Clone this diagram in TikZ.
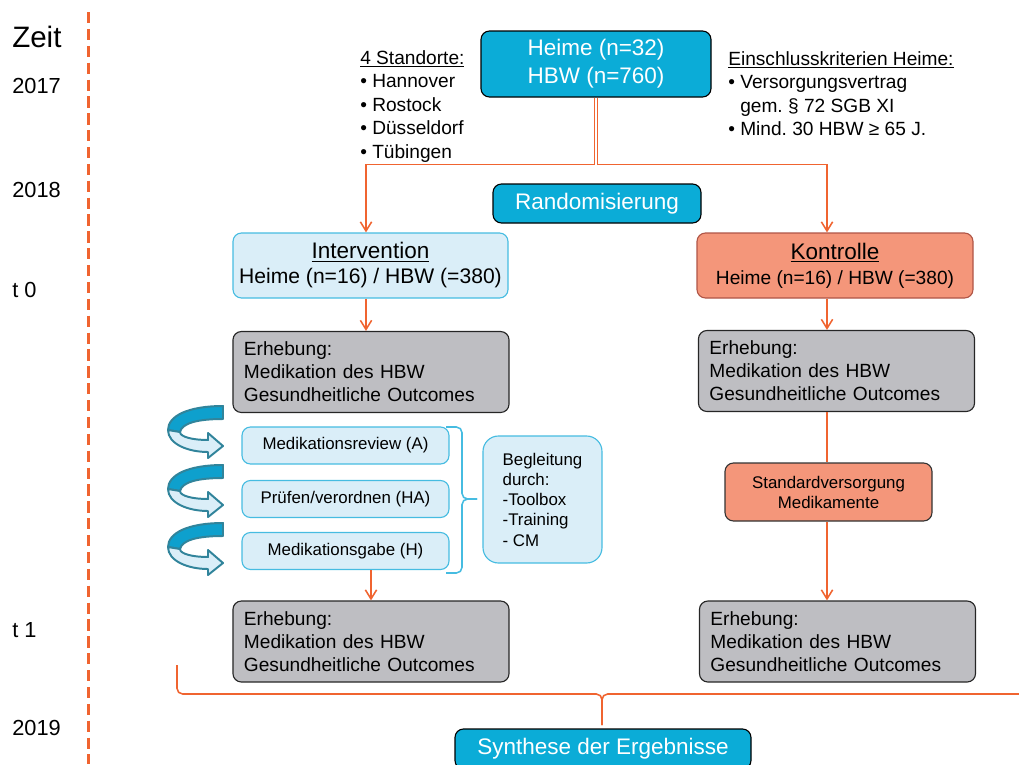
\documentclass[tikz,border=0pt]{standalone}
\usepackage{fontspec}
\setmainfont{Liberation Sans}
\usetikzlibrary{arrows.meta,positioning}
\frenchspacing

\definecolor{heimblue}{RGB}{11,172,215}
\definecolor{lightblue}{RGB}{218,238,248}
\definecolor{lineblue}{RGB}{70,188,225}
\definecolor{salmon}{RGB}{244,150,122}
\definecolor{salmonline}{RGB}{175,85,70}
\definecolor{boxgray}{RGB}{190,190,194}
\definecolor{conorange}{RGB}{240,100,48}
\definecolor{spiraldark}{RGB}{14,160,205}
\definecolor{spiralline}{RGB}{49,132,155}

\newcommand{\pxl}{0.025cm}

\tikzset{
  darkbox/.style={draw=black, line width=0.8pt, rounded corners=6pt, fill=heimblue, text=white, align=center, font=\fontsize{16}{19.9}\selectfont, inner sep=0pt},
  lightbox/.style={draw=lineblue, line width=0.8pt, rounded corners=6pt, fill=lightblue, align=center, inner sep=0pt},
  redbox/.style={draw=salmonline, line width=0.8pt, rounded corners=6pt, fill=salmon, align=center, inner sep=0pt},
  graybox/.style={draw=black!85, line width=0.8pt, rounded corners=6pt, fill=boxgray, align=left, font=\fontsize{13.6}{16.4}\selectfont, text width=6.35cm, inner xsep=0.275cm, inner ysep=0pt, minimum height=81*\pxl},
  conn/.style={draw=conorange, line width=1.1pt},
  arr/.style={conn, -{Straight Barb[length=6.5pt,width=8pt]}},
  txt/.style={font=\fontsize{13.6}{16.7}\selectfont, align=left, inner sep=0pt},
  timetxt/.style={font=\fontsize{15.5}{18}\selectfont, anchor=west, inner sep=0pt},
  bracket/.style={line width=1.1pt, rounded corners=4pt},
  spiral/.style={draw=spiralline, line width=1.4pt, line join=round},
}

\begin{document}
\begin{tikzpicture}[x=\pxl, y=-\pxl]
  \useasboundingbox (0,0) rectangle (1019,764);

  % time axis
  \coordinate (axtop) at (88.5,12);
  \coordinate (axbot) at (88.5,764);
  \draw[conorange, line width=2.4pt, dash pattern=on 8pt off 4pt] (axtop) -- (axbot);
  \node[timetxt, font=\fontsize{21}{24}\selectfont] (zeit) at (12,37) {Zeit};
  \node[timetxt] (y2017) at (12,86) {2017};
  \node[timetxt] (y2018) at (12,190) {2018};
  \node[timetxt] (tnull) at (12,290) {t 0};
  \node[timetxt] (teins) at (12,630) {t 1};
  \node[timetxt] (y2019) at (12,728) {2019};

  % top
  \node[darkbox, minimum width=230*\pxl, minimum height=66*\pxl] (heime) at (596,64) {Heime (n=32)\\HBW (n=760)};
  \node[txt, anchor=north west] (orte) at (360,50) {\underline{4 Standorte:}\\• Hannover\\• Rostock\\• Düsseldorf\\• Tübingen};
  \node[txt, anchor=north west] (krit) at (728,51) {\underline{Einschlusskriterien Heime:}\\• Versorgungsvertrag\\\hphantom{•} gem. § 72 SGB XI\\• Mind. 30 HBW ≥ 65 J.};
  \node[darkbox, minimum width=208*\pxl, minimum height=39*\pxl] (rand) at (597,203.5) {Randomisierung};

  % arms
  \node[lightbox, font=\fontsize{16}{17.8}\selectfont, minimum width=275*\pxl, minimum height=65*\pxl] (interv) at (370.5,265.5) {\underline{Intervention}\\{\fontsize{15}{17.8}\selectfont Heime (n=16) / HBW (=380)}};
  \node[redbox, font=\fontsize{16}{17.8}\selectfont, minimum width=276*\pxl, minimum height=65*\pxl] (kontr) at (835,265.5) {\underline{Kontrolle}\\{\fontsize{13.6}{17.8}\selectfont Heime (n=16) / HBW (=380)}};

  \node[graybox] (erhA) at (371,372) {Erhebung:\\Medikation des HBW\\Gesundheitliche Outcomes};
  \node[graybox] (erhB) at (836.5,371) {Erhebung:\\Medikation des HBW\\Gesundheitliche Outcomes};

  % intervention steps
  \node[lightbox, font=\fontsize{12}{14.4}\selectfont, minimum width=207*\pxl, minimum height=37*\pxl] (review) at (345.5,445.5) {Medikationsreview (A)};
  \node[lightbox, font=\fontsize{12}{14.4}\selectfont, minimum width=207*\pxl, minimum height=37*\pxl] (pruefen) at (345.5,499) {Prüfen/verordnen (HA)};
  \node[lightbox, font=\fontsize{12}{14.4}\selectfont, minimum width=207*\pxl, minimum height=37*\pxl] (gabe) at (345.5,551) {Medikationsgabe (H)};
  \node[lightbox, rounded corners=11pt, align=left, font=\fontsize{12}{14.4}\selectfont, minimum width=119*\pxl, minimum height=127*\pxl] (begl) at (542.5,499.5) {Begleitung\\durch:\\-Toolbox\\-Training\\- CM};
  \node[redbox, draw=black!80, font=\fontsize{12}{14.2}\selectfont, minimum width=207*\pxl, minimum height=58*\pxl] (std) at (828.5,492) {Standardversorgung\\Medikamente};

  \node[graybox] (erhC) at (371,641.5) {Erhebung:\\Medikation des HBW\\Gesundheitliche Outcomes};
  \node[graybox] (erhD) at (837.5,641.5) {Erhebung:\\Medikation des HBW\\Gesundheitliche Outcomes};

  \node[darkbox, minimum width=296*\pxl, minimum height=40*\pxl] (synth) at (603,749) {Synthese der Ergebnisse};

  % connectors
  \coordinate (colL) at (366,0);
  \coordinate (colR) at (827,0);
  \draw[arr] ([xshift=-1.5*\pxl]heime.south) -- ++(0,67) -| (colL |- interv.north);
  \draw[arr] ([xshift=1.5*\pxl]heime.south) -- ++(0,67) -| (colR |- kontr.north);
  \draw[arr] (colL |- interv.south) -- (colL |- erhA.north);
  \draw[arr] (colR |- kontr.south) -- (colR |- erhB.north);
  \draw[conn] (colR |- erhB.south) -- (colR |- std.north);
  \draw[arr] (colR |- std.south) -- (colR |- erhD.north);
  \draw[arr] (erhC.north |- gabe.south) -- (erhC.north);

  % braces
  \draw[bracket, draw=lineblue] (446,427) -- (462,427) -- (462,499) -- (477,499);
  \draw[bracket, draw=lineblue] (446,573) -- (462,573) -- (462,499) -- (477,499);
  \draw[bracket, draw=conorange] (177,665) -- (177,694) -- (602,694) -- (602,725);
  \draw[bracket, draw=conorange] (1027,665) -- (1027,694) -- (602,694) -- (602,725);

  % cycle arrows
  \foreach \ty in {446,505,563} {
    \begin{scope}[shift={(168,\ty)}]
      \filldraw[spiral, fill=spiraldark] (55,-40) .. controls (20,-40) and (0,-30) .. (0,-16) -- (12,-14) .. controls (14,-23) and (30,-27) .. (55,-27) -- cycle;
      \filldraw[spiral, fill=lightblue] (0,-16) .. controls (0,-2) and (20,6) .. (40,6) -- (40,12) -- (55,0) -- (40,-13) -- (40,-6) .. controls (25,-6) and (12,-9) .. (12,-14) -- cycle;
    \end{scope}
  }
\end{tikzpicture}
\end{document}
